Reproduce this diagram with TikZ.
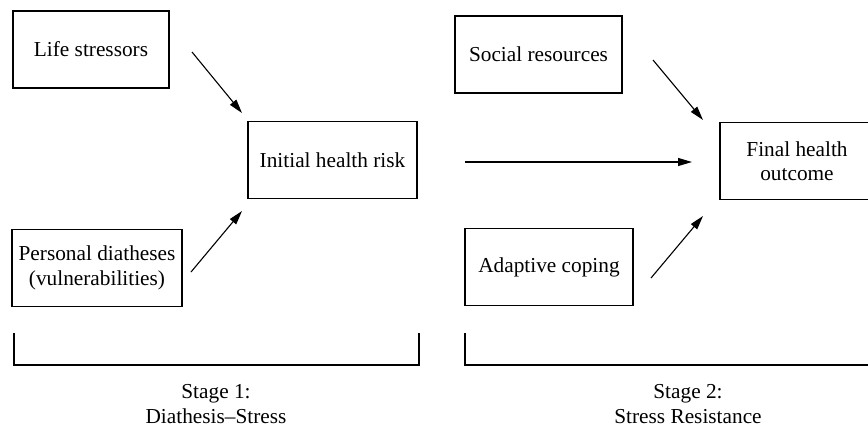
\documentclass[tikz,border=0pt]{standalone}
\usepackage{fontspec}
\setmainfont{Liberation Serif}
\usetikzlibrary{arrows.meta}
\begin{document}
\begin{tikzpicture}[x=1pt,y=-1pt,
  box/.style={draw, line width=1.1pt, minimum width=#1, minimum height=77pt, inner sep=0pt, align=center, font=\fontsize{21.3}{24.5}\selectfont},
  arr/.style={line width=1.1pt, -{Triangle[length=14pt,width=8pt]}},
  lab/.style={align=center, inner sep=0pt, font=\fontsize{21.3}{25}\selectfont},
  brk/.style={line width=1.1pt}]
\useasboundingbox (0,0) rectangle (868,426);
\clip (0,0) rectangle (868,426);
\node[box=156pt] (ls) at (91,49.5) {Life stressors};
\node[box=169pt] (ihr) at (332.5,160) {Initial health risk};
\node[box=170pt] (pd) at (97,268) {Personal diatheses\\(vulnerabilities)};
\node[box=167pt] (sr) at (538.5,54.5) {Social resources};
\node[box=154pt] (fho) at (797,161) {Final health\\outcome};
\node[box=168pt] (ac) at (549,267) {Adaptive coping};
\coordinate (a1s) at (192,52);  \coordinate (a1e) at (242,113);
\coordinate (a2s) at (191,272); \coordinate (a2e) at (242,211);
\coordinate (a3s) at (465,162); \coordinate (a3e) at (692,162);
\coordinate (a4s) at (653,60);  \coordinate (a4e) at (703,120);
\coordinate (a5s) at (651,278); \coordinate (a5e) at (703,216);
\draw[arr] (a1s) -- (a1e);
\draw[arr] (a2s) -- (a2e);
\draw[arr] (a3s) -- (a3e);
\draw[arr] (a4s) -- (a4e);
\draw[arr] (a5s) -- (a5e);
\coordinate (b1a) at (14,333); \coordinate (b1b) at (14,365);
\coordinate (b1c) at (419,365); \coordinate (b1d) at (419,333);
\draw[brk] (b1a) -- (b1b) -- (b1c) -- (b1d);
\coordinate (b2a) at (465,333); \coordinate (b2b) at (465,365);
\coordinate (b2c) at (880,365);
\draw[brk] (b2a) -- (b2b) -- (b2c);
\node[lab] (s1) at (216,404) {Stage 1:\\Diathesis–Stress};
\node[lab] (s2) at (688,404) {Stage 2:\\Stress Resistance};
\end{tikzpicture}
\end{document}
